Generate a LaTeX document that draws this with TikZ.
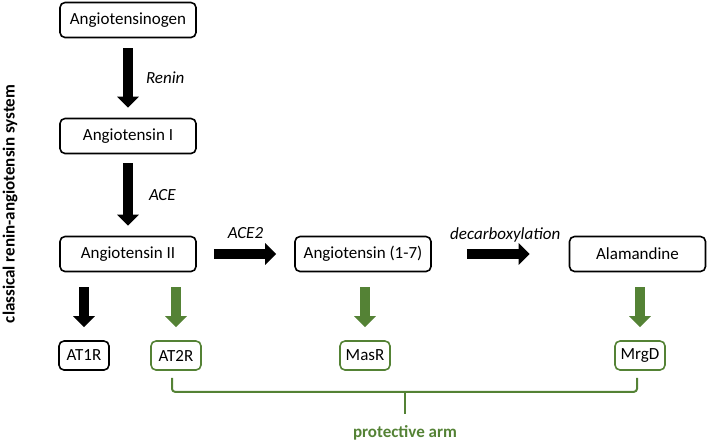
\documentclass[tikz,border=0pt]{standalone}
\usepackage{fontspec}
\setmainfont{Carlito}
\usetikzlibrary{arrows.meta,positioning}
\definecolor{armgreen}{HTML}{548235}
\begin{document}
\begin{tikzpicture}[x=1pt, y=-1pt, font=\fontsize{17}{20}\selectfont, line join=round,
	box/.style={draw, line width=1.6pt, rounded corners=5pt, minimum width=136pt, minimum height=35pt, inner sep=0pt},
	rec/.style={box, minimum width=50pt, minimum height=29pt},
	prot/.style={draw=armgreen},
	fat/.style={line width=10pt, -{Triangle[length=11pt,width=21pt]}},
	enzyme/.style={font=\fontsize{17}{20}\selectfont\itshape, inner sep=0pt}]
	\useasboundingbox (0,0) rectangle (709,445);
	% angiotensins
	\node[box] (ago) at (128,20) {Angiotensinogen};
	\node[box] (ang1) at (128,136) {Angiotensin I};
	\node[box] (ang2) at (128,254) {Angiotensin II};
	\node[box] (ang17) at (363,254) {Angiotensin (1-7)};
	\node[box] (alam) at (637.5,254) {Alamandine};
	% receptors
	\node[rec] (at1r) at (84,355.5) {AT1R};
	\node[rec,prot] (at2r) at (176,355.5) {AT2R};
	\node[rec,prot] (masr) at (365,355.5) {MasR};
	\node[rec,prot] (mrgd) at (640,355.5) {MrgD};
	\node[font=\fontsize{17}{20}\selectfont\bfseries, rotate=90] (cras) at (10,204) {classical renin-angiotensin system};
	% enzymes
	\draw[fat, shorten <=10pt, shorten >=10pt] (ago) -- (ang1) node[midway, enzyme, right=13pt] {Renin};
	\draw[fat, shorten <=9pt, shorten >=10pt] (ang1) -- (ang2) node[midway, enzyme, right=16pt] {ACE};
	\draw[fat, shorten <=17pt, shorten >=18pt] (ang2) -- (ang17) node[midway, enzyme, above=10pt] {ACE2};
	\draw[fat, shorten <=35pt, shorten >=39pt] (ang17) -- (alam) node[midway, enzyme, above=7pt, xshift=5pt] {decarboxylation};
	% receptor arrows
	\draw[fat, shorten <=15pt, shorten >=13pt] (ang2.south -| at1r) -- (at1r);
	\foreach \src/\dst in {ang2/at2r, ang17/masr, alam/mrgd}
		\draw[fat, armgreen, shorten <=15pt, shorten >=13pt] (\src.south -| \dst) -- (\dst);
	% protective arm
	\coordinate (brace) at (405,391);
	\node[armgreen, font=\fontsize{17}{20}\selectfont\bfseries, inner sep=0pt] (arm) at (405,433) {protective arm};
	\draw[armgreen, line width=2pt, rounded corners=3pt] ([xshift=-4pt,yshift=-7pt]at2r.south) |- ([xshift=-3pt,yshift=-21pt]mrgd.south) -- ([xshift=-3pt,yshift=-7pt]mrgd.south);
	\draw[armgreen, line width=2pt, shorten >=11pt] (brace) -- (arm);
\end{tikzpicture}
\end{document}
